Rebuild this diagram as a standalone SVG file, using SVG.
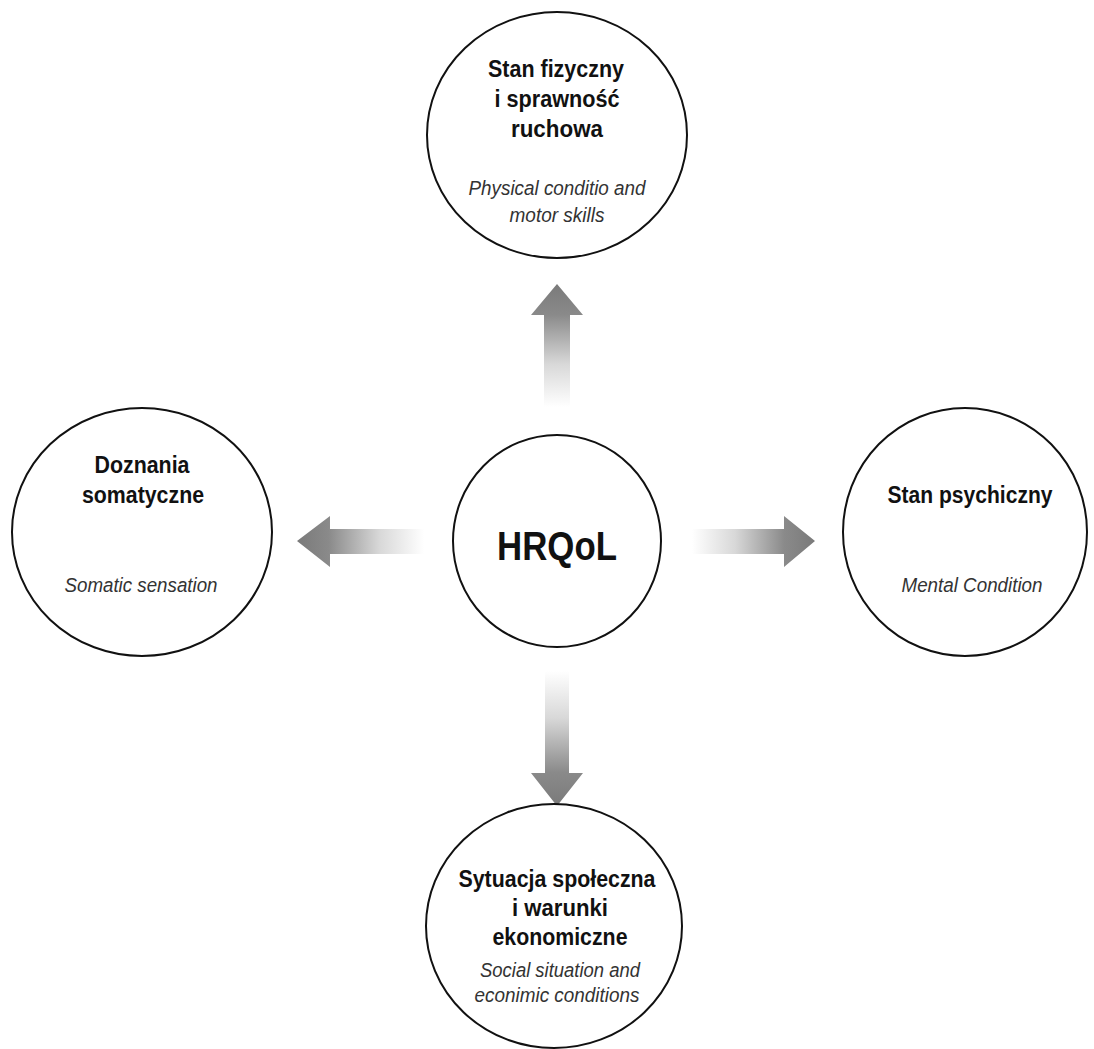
<svg xmlns="http://www.w3.org/2000/svg" width="1094" height="1049" viewBox="0 0 1094 1049">
<style>
.node{fill:#fff;stroke:#111;stroke-width:2}
.t{font-family:"Liberation Sans",Arial,sans-serif;font-weight:bold;font-size:23px;fill:#111;text-anchor:middle}
.e{font-family:"Liberation Sans",Arial,sans-serif;font-style:italic;font-size:20.5px;fill:#333;text-anchor:middle}
.c{font-family:"Liberation Sans",Arial,sans-serif;font-weight:bold;font-size:41px;fill:#111;text-anchor:middle}
</style>
<defs>
<linearGradient id="gUp" x1="0" y1="1" x2="0" y2="0">
<stop offset="0" stop-color="#fff"/><stop offset="0.35" stop-color="#d8d8d8"/><stop offset="0.75" stop-color="#8a8a8a"/><stop offset="1" stop-color="#7a7a7a"/>
</linearGradient>
<linearGradient id="gDown" x1="0" y1="0" x2="0" y2="1">
<stop offset="0" stop-color="#fff"/><stop offset="0.35" stop-color="#d8d8d8"/><stop offset="0.75" stop-color="#8a8a8a"/><stop offset="1" stop-color="#7a7a7a"/>
</linearGradient>
<linearGradient id="gLeft" x1="1" y1="0" x2="0" y2="0">
<stop offset="0" stop-color="#fff"/><stop offset="0.35" stop-color="#d8d8d8"/><stop offset="0.75" stop-color="#8a8a8a"/><stop offset="1" stop-color="#7a7a7a"/>
</linearGradient>
<linearGradient id="gRight" x1="0" y1="0" x2="1" y2="0">
<stop offset="0" stop-color="#fff"/><stop offset="0.35" stop-color="#d8d8d8"/><stop offset="0.75" stop-color="#8a8a8a"/><stop offset="1" stop-color="#7a7a7a"/>
</linearGradient>
</defs>
<rect width="1094" height="1049" fill="#fff"/>
<g id="connectors">
<polygon fill="url(#gUp)" points="557,284 583,315 570,315 570,407 544,407 544,315 531,315"/>
<polygon fill="url(#gDown)" points="557,806 583,773 569,773 569,671 545,671 545,773 531,773"/>
<polygon fill="url(#gLeft)" points="297,541 330,516 330,529 424,529 424,554 330,554 330,567"/>
<polygon fill="url(#gRight)" points="815,541 784,516 784,529 692,529 692,554 784,554 784,567"/>
</g>
<g id="node-hrqol">
<ellipse class="node" cx="557" cy="541" rx="104" ry="106"/>
<text class="c" x="557" y="560" textLength="120" lengthAdjust="spacingAndGlyphs">HRQoL</text>
</g>
<g id="node-physical">
<ellipse class="node" cx="557" cy="135" rx="130" ry="123"/>
<text class="t" x="556" y="77" textLength="136" lengthAdjust="spacingAndGlyphs">Stan fizyczny</text>
<text class="t" x="557" y="107" textLength="125" lengthAdjust="spacingAndGlyphs">i sprawność</text>
<text class="t" x="557" y="137" textLength="92" lengthAdjust="spacingAndGlyphs">ruchowa</text>
<text class="e" x="557" y="195" textLength="177" lengthAdjust="spacingAndGlyphs">Physical conditio and</text>
<text class="e" x="557" y="222" textLength="95" lengthAdjust="spacingAndGlyphs">motor skills</text>
</g>
<g id="node-somatic">
<ellipse class="node" cx="142" cy="532" rx="130" ry="124"/>
<text class="t" x="142" y="473" textLength="95" lengthAdjust="spacingAndGlyphs">Doznania</text>
<text class="t" x="143" y="503" textLength="122" lengthAdjust="spacingAndGlyphs">somatyczne</text>
<text class="e" x="141" y="592" textLength="153" lengthAdjust="spacingAndGlyphs">Somatic sensation</text>
</g>
<g id="node-mental">
<ellipse class="node" cx="965" cy="532" rx="122" ry="124"/>
<text class="t" x="970" y="503" textLength="165" lengthAdjust="spacingAndGlyphs">Stan psychiczny</text>
<text class="e" x="972" y="592" textLength="141" lengthAdjust="spacingAndGlyphs">Mental Condition</text>
</g>
<g id="node-social">
<ellipse class="node" cx="554" cy="926" rx="128" ry="122"/>
<text class="t" x="557" y="887" textLength="197" lengthAdjust="spacingAndGlyphs">Sytuacja społeczna</text>
<text class="t" x="560" y="916" textLength="96" lengthAdjust="spacingAndGlyphs">i warunki</text>
<text class="t" x="560" y="945" textLength="135" lengthAdjust="spacingAndGlyphs">ekonomiczne</text>
<text class="e" x="560" y="977" textLength="160" lengthAdjust="spacingAndGlyphs">Social situation and</text>
<text class="e" x="557" y="1002" textLength="165" lengthAdjust="spacingAndGlyphs">econimic conditions</text>
</g>
</svg>
